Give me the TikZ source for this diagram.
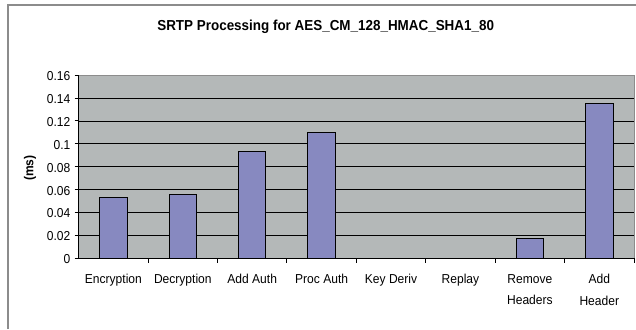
\documentclass[tikz,border=0pt]{standalone}
\usepackage{fontspec}
\setmainfont{Liberation Sans}
\newfontfamily\labfont[FakeStretch=0.93]{Liberation Sans}
\definecolor{plotgray}{RGB}{180,184,184}
\definecolor{barblue}{RGB}{135,137,192}
\definecolor{framegray}{RGB}{140,140,140}
\begin{document}
\begin{tikzpicture}[x=1bp,y=-1bp,
  ticklabel/.style={font=\labfont\fontsize{13}{15}\selectfont, inner sep=0pt},
  catlabel/.style={font=\labfont\fontsize{13}{21.5}\selectfont, inner sep=0pt, align=center, anchor=north},
  titlestyle/.style={font=\labfont\bfseries\fontsize{14.5}{16}\selectfont, inner sep=0pt},
  axislabel/.style={font=\labfont\bfseries\fontsize{13}{15}\selectfont, inner sep=0pt, rotate=90},
  bar/.style={fill=barblue, draw=black, line width=0.9bp},
  grid/.style={draw=black, line width=0.8bp},
  axisline/.style={draw=black, line width=0.9bp}]
\useasboundingbox (0,0) rectangle (636,329);
\fill[white] (0,0) rectangle (636,329);
% outer chart frame
\draw[framegray, line width=1.6bp] (8,329) -- (8,5) -- (636,5);
% plot area
\def\xl{78.7}\def\xr{634}\def\yb{258.3}\def\sc{1145}
\fill[plotgray] (\xl,75.1) rectangle (\xr,\yb);
\draw[framegray, line width=0.9bp] (\xl,75.1) -- (\xr,75.1) -- (\xr,\yb);
% gridlines
\foreach \v in {0.02,0.04,0.06,0.08,0.1,0.12,0.14}{
  \draw[grid] (\xl,{\yb-\v*\sc}) -- (\xr,{\yb-\v*\sc});
}
% bars
\foreach \i/\v in {1/0.0533,2/0.0559,3/0.0937,4/0.1097,7/0.0175,8/0.1354}{
  \draw[bar] ({\xl+69.41*(\i-0.5)-13.7},\yb) rectangle ({\xl+69.41*(\i-0.5)+13.7},{\yb-\v*\sc});
}
% axes
\draw[axisline] (\xl,75.1) -- (\xl,\yb) -- (\xr,\yb);
% y ticks and labels
\foreach \v/\t in {0/0,0.02/0.02,0.04/0.04,0.06/0.06,0.08/0.08,0.1/0.1,0.12/0.12,0.14/0.14,0.16/0.16}{
  \draw[axisline] ({\xl-4},{\yb-\v*\sc}) -- (\xl,{\yb-\v*\sc});
  \node[ticklabel, anchor=east] (yl\t) at (70.5,{\yb-\v*\sc+1}) {\t};
}
% x ticks
\foreach \i in {1,...,8}{
  \draw[axisline] ({\xl+69.41*\i},\yb) -- ({\xl+69.41*\i},{\yb+5});
}
% category labels
\foreach \i/\t/\n in {1/Encryption/c1,2/Decryption/c2,3/Add Auth/c3,4/Proc Auth/c4,5/Key Deriv/c5,6/Replay/c6,7/Remove\\Headers/c7,8/Add\\Header/c8}{
  \node[catlabel] (\n) at ({\xl+69.41*(\i-0.5)},274) {\t};
}
% title and axis label
\node[titlestyle] (title) at (325.7,26.7) {SRTP Processing for AES\_CM\_128\_HMAC\_SHA1\_80};
\node[axislabel] (ylab) at (30,168) {(ms)};
\end{tikzpicture}
\end{document}
